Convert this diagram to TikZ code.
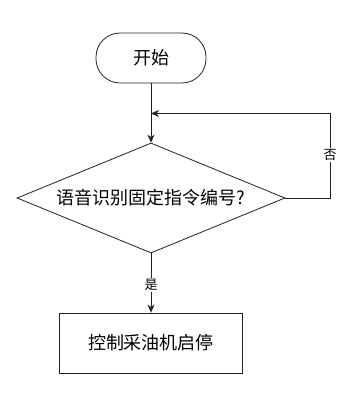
\documentclass[tikz,border=0pt]{standalone}
\usepackage{fontspec}
\setmainfont{Noto Sans CJK SC}
\usetikzlibrary{arrows.meta,shapes.geometric}
\definecolor{ln}{HTML}{222222}
\tikzset{
  base/.style={draw=ln, line width=0.8pt, inner sep=0pt, font=\fontsize{18}{22}\selectfont},
  term/.style={base, rectangle, rounded corners=24pt, minimum width=110pt, minimum height=50pt},
  decision/.style={base, diamond, aspect=2.44, minimum width=268pt, minimum height=110pt},
  proc/.style={base, rectangle, minimum width=183pt, minimum height=60pt},
  arr/.style={draw=ln, line width=0.8pt, -{Stealth[length=8pt,width=7pt,inset=2.5pt]}},
  lab/.style={fill=white, inner sep=1.5pt, font=\fontsize{13}{15}\selectfont}
}
\begin{document}
\begin{tikzpicture}[x=1pt,y=-1pt]
\useasboundingbox[fill=white] (0,0) rectangle (356,413);
\node[term] (start) at (151,58) {开始};
\node[decision] (dec) at (151,198) {语音识别固定指令编号?};
\node[proc] (act) at (151,343) {控制采油机启停};
\coordinate (fb) at (330,113.5);
\draw[arr] (start.south) -- (dec.north);
\draw[arr] (dec.east) -| (fb) -- (fb -| start.south);
\draw[arr] (dec.south) -- (act.north);
\node[lab] (no) at (330,155) {否};
\node[lab] (yes) at (151,285) {是};
\end{tikzpicture}
\end{document}
